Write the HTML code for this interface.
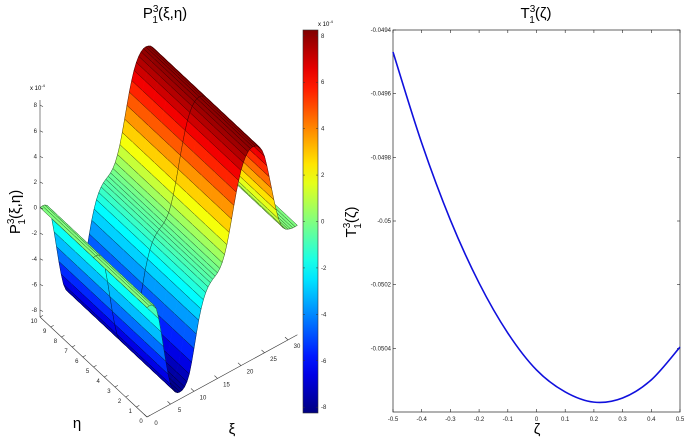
<!DOCTYPE html>
<html><head><meta charset="utf-8">
<style>
html,body{margin:0;padding:0;background:#fff;}
svg{display:block;font-family:"Liberation Sans",sans-serif;}
</style></head>
<body>
<svg id="fig" width="685" height="437" viewBox="0 0 685 437" xmlns="http://www.w3.org/2000/svg">
  <g id="surf"></g>
  <g id="surfAxes"></g>
  <g id="cbar"></g>
  <g id="line"></g>
  <text x="165" y="18" font-size="15" text-anchor="middle">P<tspan font-size="10" dy="-6">3</tspan><tspan font-size="10" dx="-6" dy="11">1</tspan><tspan dy="-5">(ξ,η)</tspan></text>
  <text x="536" y="18" font-size="15" text-anchor="middle">T<tspan font-size="10" dy="-6">3</tspan><tspan font-size="10" dx="-6" dy="11">1</tspan><tspan dy="-5">(ζ)</tspan></text>
  <text transform="translate(20,212) rotate(-90)" font-size="15" text-anchor="middle">P<tspan font-size="10" dy="-6">3</tspan><tspan font-size="10" dx="-6" dy="11">1</tspan><tspan dy="-5">(ξ,η)</tspan></text>
  <text transform="translate(356,222) rotate(-90)" font-size="15" text-anchor="middle">T<tspan font-size="10" dy="-6">3</tspan><tspan font-size="10" dx="-6" dy="11">1</tspan><tspan dy="-5">(ζ)</tspan></text>
  <text x="77" y="428" font-size="15" text-anchor="middle">η</text>
  <text x="232" y="434" font-size="15" text-anchor="middle">ξ</text>
  <text x="537" y="434" font-size="15" text-anchor="middle">ζ</text>
  <text x="30" y="90" font-size="6">x 10<tspan font-size="4" dy="-3">-4</tspan></text>
  <text x="318" y="26" font-size="6">x 10<tspan font-size="4" dy="-3">-4</tspan></text>
</svg>
<script>
// ---- surface profile data (values in 1e-4 units) ----
const xiSamples = [0,1,2,3,4,5,6,7,8,9,10,11,12,13,14,15,16,17,18,19,20,21,22,23,24,25,26,27,28,29,30,31,32];
const profileValues = [0,0,-0.5,-2.5,-5,-7,-7.8,-8,-7.8,-7,-5.2,-3.2,-1.8,-1,-0.6,-0.3,0.3,1.5,3.3,5.2,6.7,7.6,8,8,7.7,6.8,5,3,1.3,0.4,0.1,0,0];
const zTicks = [-8,-6,-4,-2,0,2,4,6,8];
const etaTicks = [0,1,2,3,4,5,6,7,8,9,10];
const xiTicks = [0,5,10,15,20,25,30];
const cbarTicks = [-8,-6,-4,-2,0,2,4,6,8];
// ---- line chart data ----
const zetaValues = [-0.5,-0.4,-0.3,-0.2,-0.1,0,0.1,0.2,0.3,0.4,0.5];
const tValues = [-0.049469,-0.049755,-0.049997,-0.050195,-0.050352,-0.050468,-0.050537,-0.050569,-0.050556,-0.050499,-0.050396];
const yTickValues = [-0.0494,-0.0496,-0.0498,-0.05,-0.0502,-0.0504];
const yTickLabels = ["-0.0494","-0.0496","-0.0498","-0.05","-0.0502","-0.0504"];
const xTickValues = [-0.5,-0.4,-0.3,-0.2,-0.1,0,0.1,0.2,0.3,0.4,0.5];

const NS = "http://www.w3.org/2000/svg";
function mk(tag, attrs, parent){const e=document.createElementNS(NS,tag);for(const k in attrs)e.setAttribute(k,attrs[k]);parent.appendChild(e);return e;}

function jet(t){
  t=Math.max(0,Math.min(1,t));
  const r=Math.max(0,Math.min(1,1.5-Math.abs(4*t-3)));
  const g=Math.max(0,Math.min(1,1.5-Math.abs(4*t-2)));
  const b=Math.max(0,Math.min(1,1.5-Math.abs(4*t-1)));
  return `rgb(${Math.round(r*255)},${Math.round(g*255)},${Math.round(b*255)})`;
}
const CMIN=-8.25, CMAX=8.25;
function prof(x){
  // cubic (Catmull-Rom) interpolation of the read profile
  const n=xiSamples.length;
  let i=Math.floor(x); if(i<0)i=0; if(i>n-2)i=n-2;
  const t=x-xiSamples[i];
  const p0=profileValues[Math.max(0,i-1)],p1=profileValues[i],p2=profileValues[i+1],p3=profileValues[Math.min(n-1,i+2)];
  return 0.5*((2*p1)+(-p0+p2)*t+(2*p0-5*p1+4*p2-p3)*t*t+(-p0+3*p1-3*p2+p3)*t*t*t);
}
// projection
const ZMIN=-8.55;
function P(xi,eta,z){return [147+4.7*xi-10.7*eta, 417-2.57*xi-10*eta-12.8*(z-ZMIN)];}
function depth(xi,eta,z){return 137*xi+60*eta-74.5*z;}

// ---- surface ----
const surf=document.getElementById('surf');
const dXi=0.5, dEta=1, XI_MAX=32, ETA_MAX=10;
const quads=[];
for(let xi=0; xi<XI_MAX-1e-9; xi+=dXi){
  for(let eta=0; eta<ETA_MAX-1e-9; eta+=dEta){
    const z0=prof(xi), z1=prof(xi+dXi);
    const zc=prof(xi+dXi/2);
    quads.push({xi,eta,z0,z1,zc,d:depth(xi+dXi/2,eta+dEta/2,zc)});
  }
}
quads.sort((a,b)=>b.d-a.d);
quads.forEach(q=>{
  const a=P(q.xi,q.eta,q.z0), b=P(q.xi+dXi,q.eta,q.z1), c=P(q.xi+dXi,q.eta+dEta,q.z1), d=P(q.xi,q.eta+dEta,q.z0);
  const col=jet((q.zc-CMIN)/(CMAX-CMIN));
  const poly=mk('polygon',{points:[a,b,c,d].map(p=>p[0].toFixed(2)+','+p[1].toFixed(2)).join(' '),fill:col,stroke:col,'stroke-width':0.4},surf);
  
  
  let path=`M${a[0]},${a[1]}L${d[0]},${d[1]}M${b[0]},${b[1]}L${c[0]},${c[1]}`;
  if(q.eta===0||q.eta===5) path+=`M${a[0]},${a[1]}L${b[0]},${b[1]}`;
  if(q.eta+dEta===5||q.eta+dEta===10) path+=`M${d[0]},${d[1]}L${c[0]},${c[1]}`;
  const ln=mk('path',{d:path,stroke:'#000','stroke-width':0.45,'stroke-opacity':0.75,fill:'none'},surf);
  
  
});

// ---- surface axes ----
const sa=document.getElementById('surfAxes');
const o=P(0,10,ZMIN), zt=P(0,10,8.4);
mk('line',{x1:o[0],y1:o[1],x2:zt[0],y2:zt[1],stroke:'#333','stroke-width':0.6},sa);
const e0=P(0,0,ZMIN), x30=P(32,0,ZMIN);
mk('line',{x1:o[0],y1:o[1],x2:e0[0],y2:e0[1],stroke:'#333','stroke-width':0.6},sa);
mk('line',{x1:e0[0],y1:e0[1],x2:x30[0],y2:x30[1],stroke:'#333','stroke-width':0.6},sa);
zTicks.forEach(v=>{
  const p=P(0,10,v);
  mk('line',{x1:p[0],y1:p[1],x2:p[0]+3,y2:p[1]+1.5,stroke:'#333','stroke-width':0.6},sa);
  const t=mk('text',{x:p[0]-3,y:p[1]+2,'font-size':6,'text-anchor':'end',fill:'#222'},sa);
  t.textContent=String(v);
  
  
});
etaTicks.forEach(v=>{
  const p=P(0,v,ZMIN);
  mk('line',{x1:p[0],y1:p[1],x2:p[0]+3,y2:p[1]-1.6,stroke:'#333','stroke-width':0.6},sa);
  const t=mk('text',{x:p[0]-6,y:p[1]+6,'font-size':6,'text-anchor':'middle',fill:'#222'},sa);
  t.textContent=String(v);
  
  
});
xiTicks.forEach(v=>{
  const p=P(v,0,ZMIN);
  mk('line',{x1:p[0],y1:p[1],x2:p[0]-3,y2:p[1]-2.8,stroke:'#333','stroke-width':0.6},sa);
  const t=mk('text',{x:p[0]+9,y:p[1]+8,'font-size':6,'text-anchor':'middle',fill:'#222'},sa);
  t.textContent=String(v);
  
  
});

// ---- colorbar ----
const cb=document.getElementById('cbar');
const defs=mk('defs',{},cb);
const lg=mk('linearGradient',{id:'jetg',x1:0,y1:1,x2:0,y2:0},defs);
for(let i=0;i<=20;i++){mk('stop',{offset:i/20,'stop-color':jet(i/20)},lg);}
const CB_TOP=30, CB_BOT=413, CB_X=303, CB_W=15;
const cbRect=mk('rect',{x:CB_X,y:CB_TOP,width:CB_W,height:CB_BOT-CB_TOP,fill:'url(#jetg)',stroke:'#333','stroke-width':0.6},cb);


function cbY(v){return CB_BOT-(v-CMIN)/(CMAX-CMIN)*(CB_BOT-CB_TOP);}
cbarTicks.forEach(v=>{
  const y=cbY(v);
  mk('line',{x1:CB_X,y1:y,x2:CB_X+2,y2:y,stroke:'#333','stroke-width':0.5},cb);
  mk('line',{x1:CB_X+CB_W-2,y1:y,x2:CB_X+CB_W,y2:y,stroke:'#333','stroke-width':0.5},cb);
  const t=mk('text',{x:CB_X+CB_W+3,y:y+2,'font-size':6,fill:'#222'},cb);
  t.textContent=String(v);
  
  
});

// ---- line chart ----
const lc=document.getElementById('line');
const L=393,R=680,T=30,B=412, YMAX=-0.0494, YMIN=-0.0506;
function sx(v){return L+(v+0.5)*(R-L);}
function sy(v){return T+(YMAX-v)/(YMAX-YMIN)*(B-T);}
const box=mk('rect',{x:L,y:T,width:R-L,height:B-T,fill:'#fff',stroke:'#222','stroke-width':0.7},lc);


yTickValues.forEach((v,i)=>{
  const y=sy(v);
  mk('line',{x1:L,y1:y,x2:L+3,y2:y,stroke:'#222','stroke-width':0.6},lc);
  mk('line',{x1:R-3,y1:y,x2:R,y2:y,stroke:'#222','stroke-width':0.6},lc);
  const t=mk('text',{x:L-2,y:y+2,'font-size':6,'text-anchor':'end',fill:'#222'},lc);
  t.textContent=yTickLabels[i];
  
  
});
xTickValues.forEach(v=>{
  const x=sx(v);
  mk('line',{x1:x,y1:B,x2:x,y2:B-3,stroke:'#222','stroke-width':0.6},lc);
  mk('line',{x1:x,y1:T,x2:x,y2:T+3,stroke:'#222','stroke-width':0.6},lc);
  const t=mk('text',{x:x,y:B+9,'font-size':6,'text-anchor':'middle',fill:'#222'},lc);
  t.textContent=String(v);
  
  
});
const pts=zetaValues.map((z,i)=>[sx(z),sy(tValues[i])]);
let d=`M${pts[0][0]},${pts[0][1]}`;
for(let i=0;i<pts.length-1;i++){
  const p0=pts[Math.max(0,i-1)],p1=pts[i],p2=pts[i+1],p3=pts[Math.min(pts.length-1,i+2)];
  const c1=[p1[0]+(p2[0]-p0[0])/6,p1[1]+(p2[1]-p0[1])/6];
  const c2=[p2[0]-(p3[0]-p1[0])/6,p2[1]-(p3[1]-p1[1])/6];
  d+=`C${c1[0]},${c1[1]} ${c2[0]},${c2[1]} ${p2[0]},${p2[1]}`;
}
const curve=mk('path',{d:d,fill:'none',stroke:'#1010dd','stroke-width':1.6},lc);


</script>
</body></html>
